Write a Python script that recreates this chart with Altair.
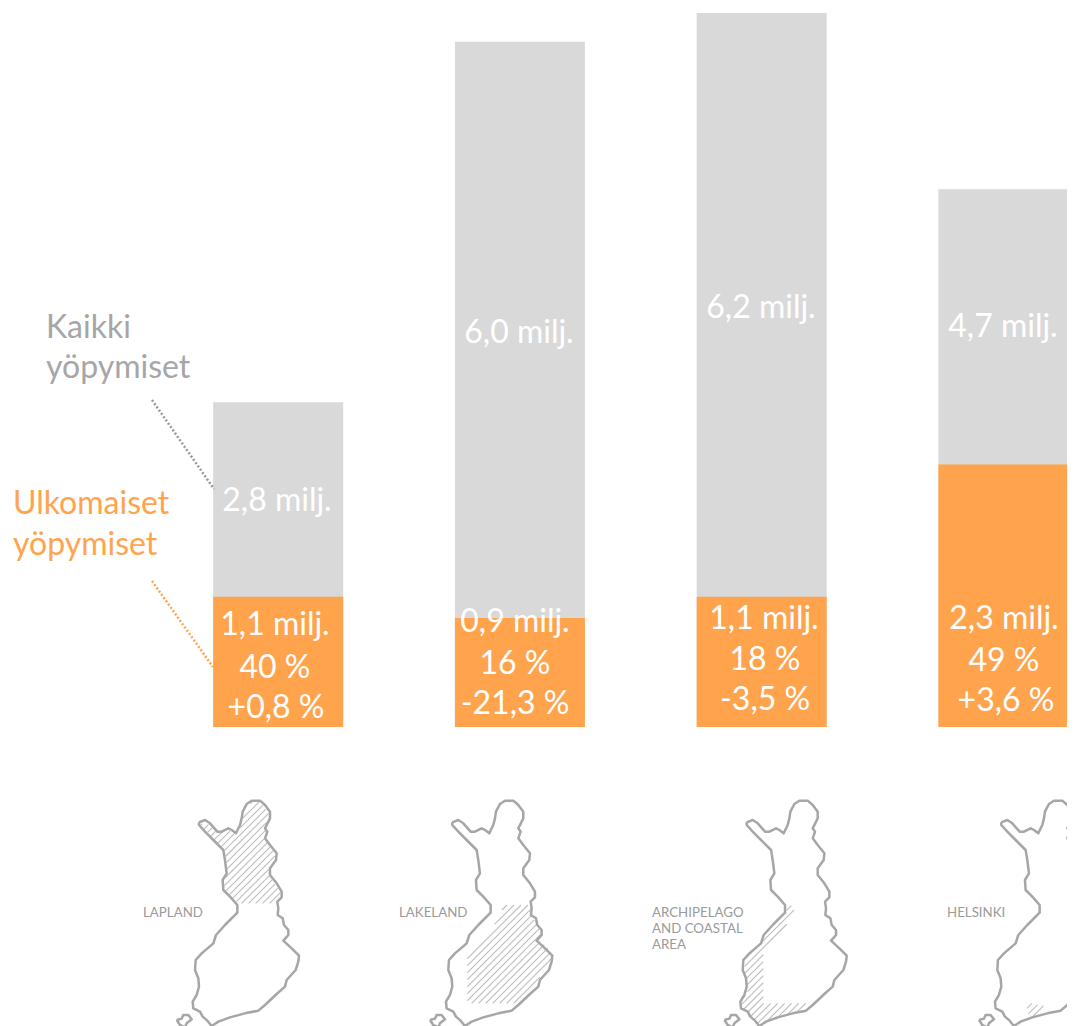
import altair as alt
import pandas as pd

REGIONS = ["Lapland", "Lakeland", "Archipelago", "Helsinki"]
ALL_STAYS = [2.82, 5.95, 6.2, 4.67]
FOREIGN_STAYS = [1.13, 0.946, 1.13, 2.28]

# White labels on the bars: text, horizontal centre, vertical centre
BAR_TEXT = ["2,8 milj.", "1,1 milj.", "40 %", "+0,8 %",
            "6,0 milj.", "0,9 milj.", "16 %", "-21,3 %",
            "6,2 milj.", "1,1 milj.", "18 %", "-3,5 %",
            "4,7 milj.", "2,3 milj.", "49 %", "+3,6 %"]
BAR_TEXT_X = [277, 275, 275, 276, 519, 515, 515, 515, 761, 764, 765, 765, 1003, 1004, 1004, 1006]
BAR_TEXT_Y = [501, 625, 668, 708, 333, 622, 664, 704, 308, 619, 660, 700, 327, 619, 661, 701]

GREY_TEXT = ["Kaikki", "yöpymiset"]
GREY_TEXT_X = [46, 46]
GREY_TEXT_Y = [328, 368]
ORANGE_TEXT = ["Ulkomaiset", "yöpymiset"]
ORANGE_TEXT_X = [13, 13]
ORANGE_TEXT_Y = [504, 545]

LEADER_GROUP = ["grey", "grey", "orange", "orange"]
LEADER_X = [152, 214, 152, 213]
LEADER_Y = [400, 489, 581, 667]

MAP_TEXT = ["LAPLAND", "LAKELAND", "ARCHIPELAGO", "AND COASTAL", "AREA", "HELSINKI"]
MAP_TEXT_X = [143, 399, 652, 652, 652, 947]
MAP_TEXT_Y = [913, 913, 913, 929, 945, 913]

# Finland outline in map units (1 unit = 1/3 px), as seen on the first map
OUTLINE = [(207,97),(225,90),(240,100),(262,125),(275,125),(295,115),(305,120),(318,130),(330,105),
           (335,85),(338,65),(350,42),(365,32),(390,32),(405,45),(420,65),(420,85),(405,115),(412,125),
           (405,145),(420,165),(440,190),(438,210),(420,235),(420,255),(440,280),(455,305),(455,322),
           (442,335),(445,355),(443,375),(458,385),(462,405),(475,420),(475,435),(460,452),(485,475),
           (507,497),(505,515),(497,540),(470,570),(465,590),(440,612),(405,645),(385,662),(345,670),
           (300,682),(265,695),(245,708),(232,692),(218,680),(210,665),(190,655),(188,635),(200,615),
           (207,590),(205,565),(195,540),(197,510),(215,490),(250,460),(258,435),(285,405),(322,368),
           (322,345),(300,320),(280,300),(278,270),(290,250),(285,210),(280,180),(250,150),(225,125),
           (207,105),(207,97)]
ISLAND = [(140,690),(155,686),(160,675),(175,675),(185,688),(170,700),(165,712),(150,705),(140,690)]
MAP_SHIFT = [0, 253.3, 547.7, 802.3]

# Hatched areas, each in the map units of its own crop
HATCH_AREAS = [
    [(212,100),(240,104),(262,130),(295,120),(318,136),(335,105),(342,65),(365,36),(390,36),(416,68),
     (416,85),(401,115),(408,125),(401,145),(436,190),(434,210),(416,235),(416,255),(451,305),(451,322),
     (438,340),(326,340),(296,320),(284,300),(282,270),(294,250),(289,210),(284,178),(250,146),(212,105)],
    [(345,345),(428,345),(425,380),(445,405),(455,425),(445,450),(470,470),(488,495),(478,530),(450,560),
     (440,590),(405,625),(375,640),(232,640),(232,495),(330,385),(330,370)],
    [(445,345),(450,372),(355,490),(355,640),(495,640),(470,660),(400,685),(345,705),(330,695),(320,680),
     (295,655),(290,635),(310,600),(300,545),(298,510),(355,440),(420,370),(430,350)],
    [(275,650),(290,640),(335,650),(320,672),(285,685),(280,670)],
]
HATCH_CROP_LEFT = [130, 390, 645, 935]
HATCH_SPACING = 7.0

outline_rows = []
for i in range(4):
    for part, pts in (("main", OUTLINE), ("island", ISLAND)):
        for k, (mx, my) in enumerate(pts):
            outline_rows.append({"map": f"{i}-{part}", "k": k,
                                 "x": mx / 3 + 130 + MAP_SHIFT[i], "y": my / 3 + 790})

hatch_rows = []
for i, area in enumerate(HATCH_AREAS):
    poly = [(mx / 3 + HATCH_CROP_LEFT[i], my / 3 + 790) for mx, my in area]
    cs = [x + y for x, y in poly]
    c = min(cs) + 2
    while c < max(cs):
        hits = []
        n = len(poly)
        for j in range(n):
            (x1, y1), (x2, y2) = poly[j], poly[(j + 1) % n]
            s1, s2 = x1 + y1 - c, x2 + y2 - c
            if s1 * s2 < 0:
                t = s1 / (s1 - s2)
                hits.append((x1 + t * (x2 - x1), y1 + t * (y2 - y1)))
        hits.sort()
        for a, b in zip(hits[::2], hits[1::2]):
            hatch_rows.append({"x": a[0], "y": a[1], "x2": b[0], "y2": b[1]})
        c += HATCH_SPACING

WIDTH, HEIGHT = 1059, 1018
BASE_PX, TOP_PX = 727, 13
PX_PER_UNIT = (BASE_PX - TOP_PX) / max(ALL_STAYS)

page_sx = alt.Scale(domain=[8, 8 + WIDTH], range=[0, WIDTH], nice=False, zero=False)
page_sy = alt.Scale(domain=[8, 8 + HEIGHT], range=[0, HEIGHT], nice=False, zero=False)
val_sy = alt.Scale(domain=[(BASE_PX - 8 - HEIGHT) / PX_PER_UNIT, (BASE_PX - 8) / PX_PER_UNIT],
                   range=[HEIGHT, 0], nice=False, zero=False)
band_sx = alt.Scale(domain=REGIONS, range=[149.3, 1116.3], paddingInner=0, paddingOuter=0)

bars = pd.DataFrame({"region": REGIONS, "total": ALL_STAYS, "foreign": FOREIGN_STAYS})


def bar_layer(field, color):
    return alt.Chart(bars).mark_bar(size=130, color=color).encode(
        x=alt.X("region:N", scale=band_sx, axis=None, sort=REGIONS),
        y=alt.Y(f"{field}:Q", scale=val_sy, axis=None, stack=None),
    )


def text_layer(texts, xs, ys, color, size, align="left"):
    df = pd.DataFrame({"t": texts, "x": xs, "y": ys})
    return alt.Chart(df).mark_text(color=color, fontSize=size, font="Lato", align=align, baseline="middle").encode(
        x=alt.X("x:Q", scale=page_sx, axis=None),
        y=alt.Y("y:Q", scale=page_sy, axis=None),
        text="t:N",
    )


def leader(group, color):
    df = pd.DataFrame({"g": LEADER_GROUP, "x": LEADER_X, "y": LEADER_Y})
    df = df[df.g == group]
    return alt.Chart(df).mark_line(color=color, strokeWidth=2.5, strokeDash=[2, 2]).encode(
        x=alt.X("x:Q", scale=page_sx, axis=None),
        y=alt.Y("y:Q", scale=page_sy, axis=None),
    )


hatch = alt.Chart(pd.DataFrame(hatch_rows)).mark_rule(color="#BDBDBD", strokeWidth=1.1, clip=True).encode(
    x=alt.X("x:Q", scale=page_sx, axis=None), x2="x2:Q",
    y=alt.Y("y:Q", scale=page_sy, axis=None), y2="y2:Q",
)
outline = alt.Chart(pd.DataFrame(outline_rows)).mark_line(
    color="#A6A6A6", strokeWidth=2.5, strokeJoin="round", clip=True
).encode(
    x=alt.X("x:Q", scale=page_sx, axis=None),
    y=alt.Y("y:Q", scale=page_sy, axis=None),
    detail="map:N",
    order="k:Q",
)

chart = alt.layer(
    bar_layer("total", "#D9D9D9"),
    bar_layer("foreign", "#FFA34D"),
    leader("grey", "#999999"),
    leader("orange", "#FFA34D"),
    hatch,
    outline,
    text_layer(BAR_TEXT, BAR_TEXT_X, BAR_TEXT_Y, "#FFFFFF", 32, align="center"),
    text_layer(GREY_TEXT, GREY_TEXT_X, GREY_TEXT_Y, "#A6A6A6", 32),
    text_layer(ORANGE_TEXT, ORANGE_TEXT_X, ORANGE_TEXT_Y, "#FFA34D", 32),
    text_layer(MAP_TEXT, MAP_TEXT_X, MAP_TEXT_Y, "#9A9A9A", 13.3),
).resolve_scale(x="independent", y="independent").properties(
    width=WIDTH, height=HEIGHT, padding=0, autosize=alt.AutoSizeParams(type="none")
).configure_view(stroke=None)

chart.save("out.html", embed_options={"renderer": "svg", "actions": False})
